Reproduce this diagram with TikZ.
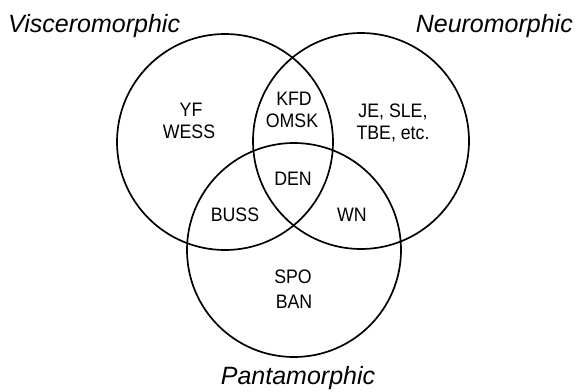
\documentclass[tikz,border=0pt]{standalone}
\usepackage{fontspec}
\setmainfont{Liberation Sans}
\newfontfamily\setfont[FakeStretch=0.91]{Liberation Sans}
\begin{document}
\begin{tikzpicture}[x=1pt,y=-1pt,
  setcircle/.style={draw=black,line width=1.7pt},
  member/.style={anchor=base,inner sep=0pt,font=\setfont\fontsize{19.5}{21.5}\selectfont},
  category/.style={inner sep=0pt,font=\itshape\fontsize{25}{30}\selectfont}]
  \useasboundingbox (0,0) rectangle (577,391);

  % the three sets
  \draw[setcircle] (225,142) circle[radius=108];
  \draw[setcircle] (361,141) circle[radius=108];
  \draw[setcircle] (294,250) circle[radius=107];

  % set names
  \node[category,anchor=base west] (visc) at (8,32) {Visceromorphic};
  \node[category,anchor=base east] (neuro) at (573,32) {Neuromorphic};
  \node[category,anchor=base] (panta) at (298,384) {Pantamorphic};

  % members of each region
  \node[member] (yf)   at (191,116) {YF};
  \node[member] (wess) at (189,138) {WESS};
  \node[member] (kfd)  at (294,105) {KFD};
  \node[member] (omsk) at (292,127) {OMSK};
  \node[member] (je)   at (393,117) {JE, SLE,};
  \node[member] (tbe)  at (393,139) {TBE, etc.};
  \node[member] (den)  at (293,185) {DEN};
  \node[member] (buss) at (235,221) {BUSS};
  \node[member] (wn)   at (352,221) {WN};
  \node[member] (spo)  at (293,283) {SPO};
  \node[member] (ban)  at (294,308) {BAN};
\end{tikzpicture}
\end{document}
